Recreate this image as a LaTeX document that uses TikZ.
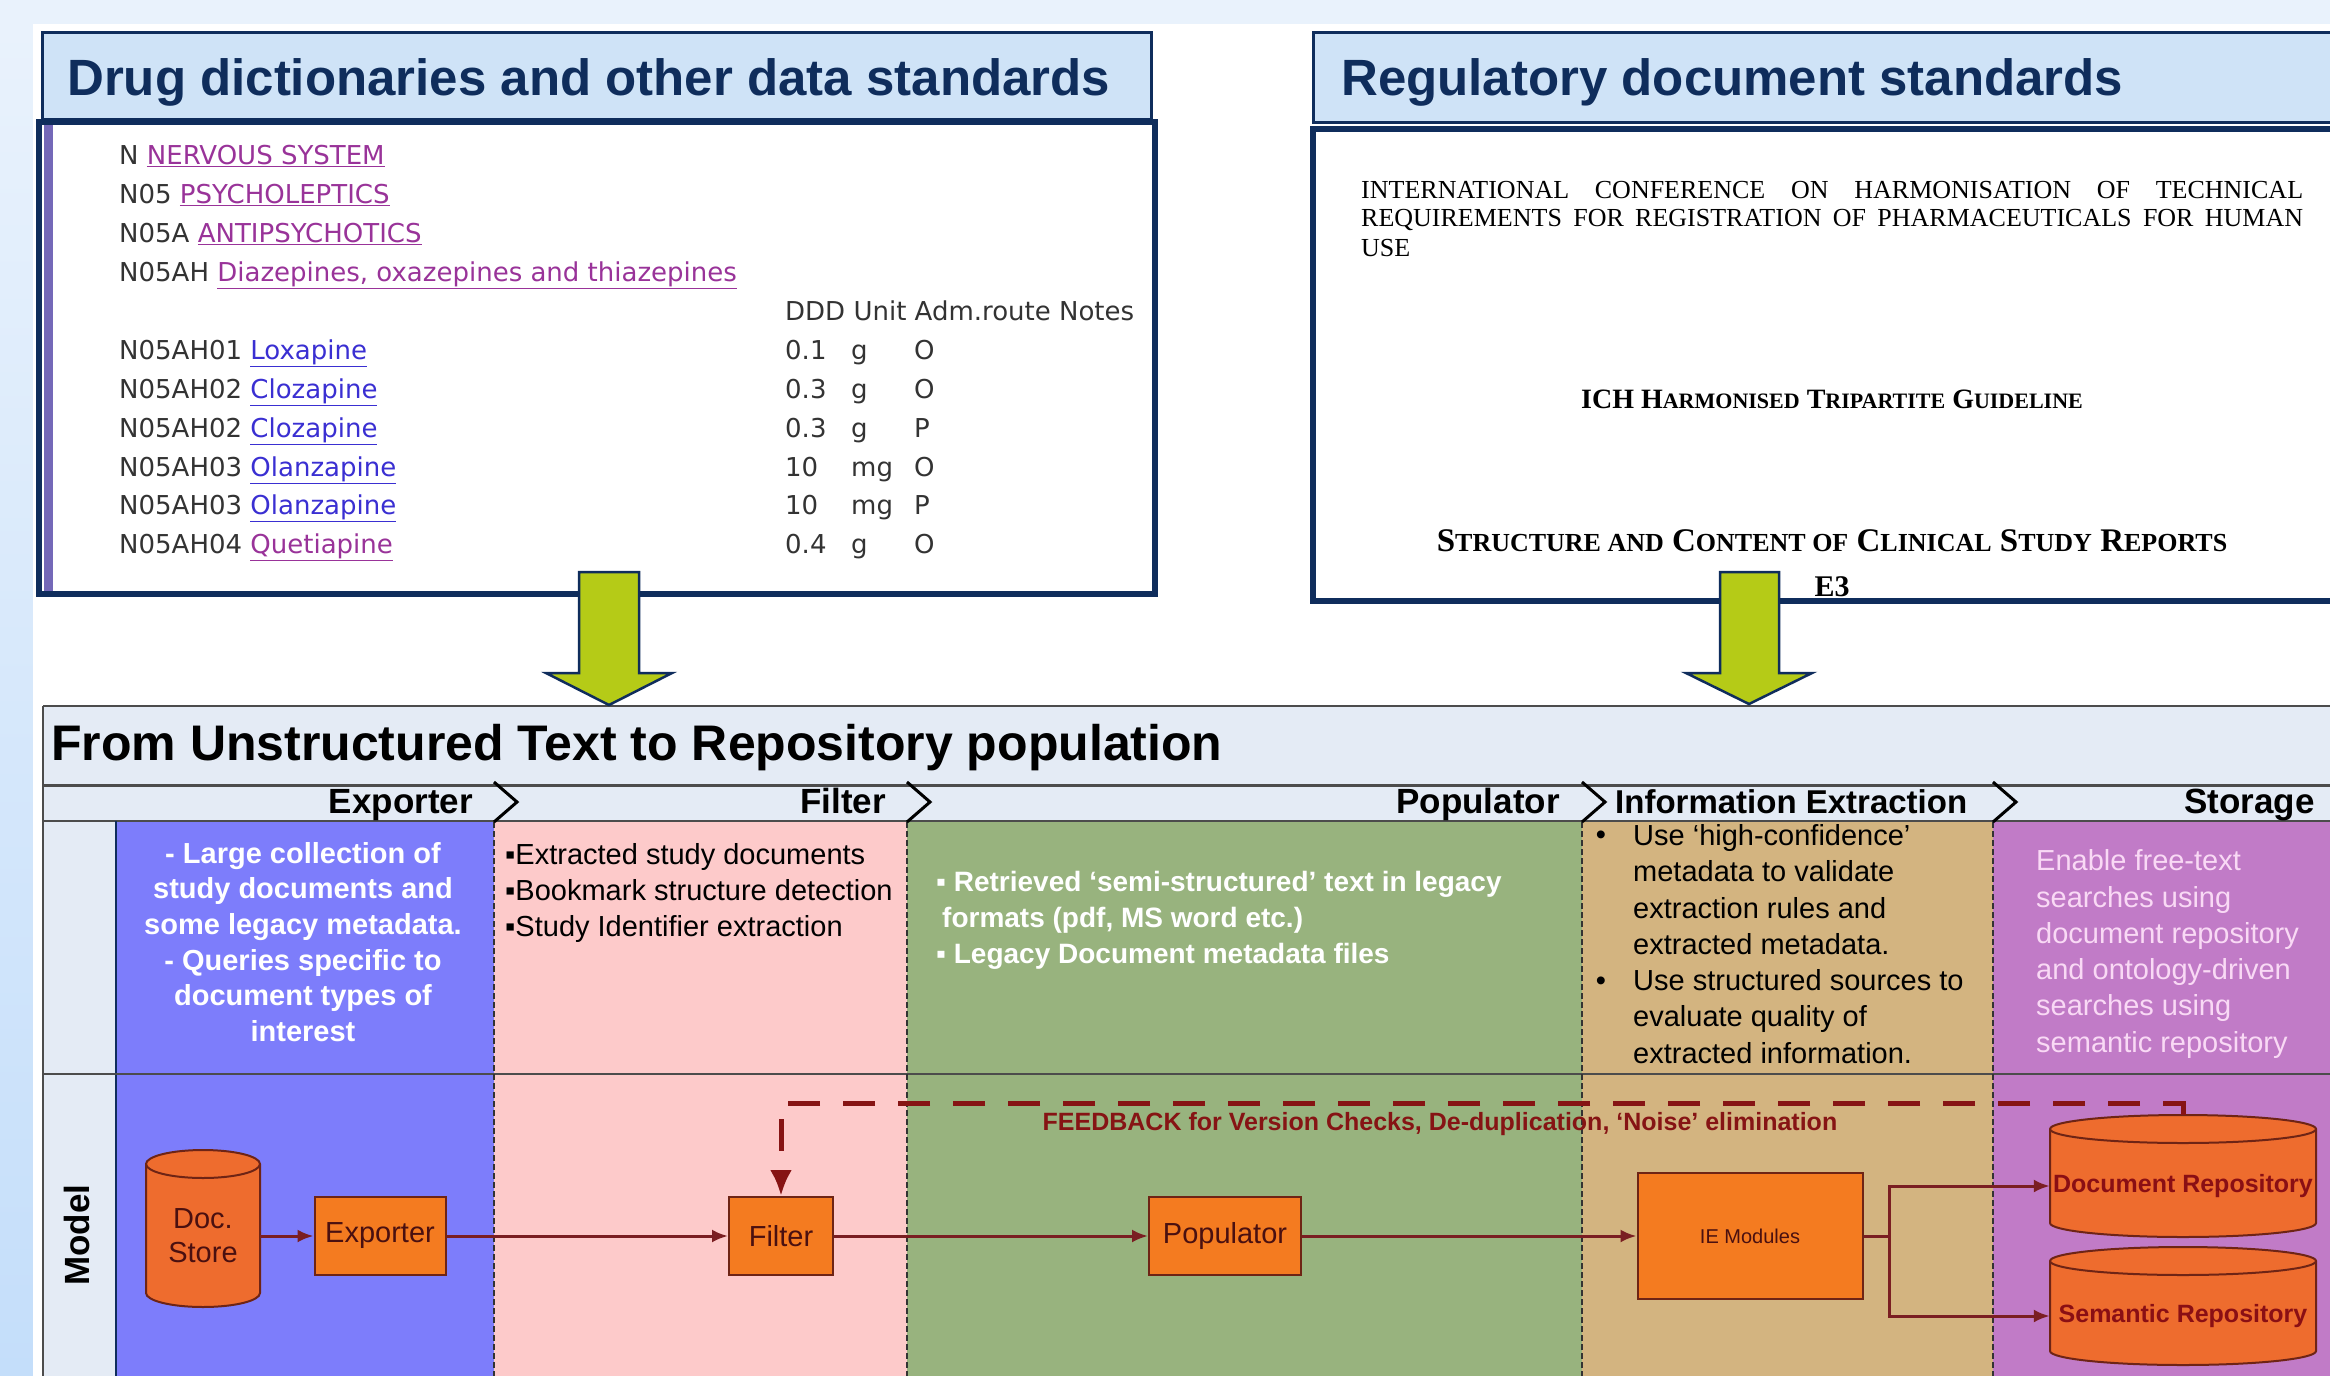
\documentclass[tikz,border=0pt]{standalone}
\usepackage{fontspec}
\setmainfont{Liberation Sans}
\newfontfamily\verd{DejaVu Sans}
\newfontfamily\tms{Liberation Serif}
\usetikzlibrary{arrows.meta,positioning,calc}

\definecolor{bgtop}{HTML}{E9F2FC}
\definecolor{bgleft}{HTML}{C4DEFA}
\definecolor{navy}{HTML}{0F2D5C}
\definecolor{hdrblue}{HTML}{CFE3F7}
\definecolor{stripe}{HTML}{7468B8}
\definecolor{arrowgreen}{HTML}{B5CB17}
\definecolor{barbg}{HTML}{E4EBF5}
\definecolor{exblue}{HTML}{7D7DFB}
\definecolor{filpink}{HTML}{FDCACA}
\definecolor{popgreen}{HTML}{98B37E}
\definecolor{ietan}{HTML}{D3B480}
\definecolor{storpurple}{HTML}{C17BC7}
\definecolor{boxfill}{HTML}{F47B20}
\definecolor{drumfill}{HTML}{EE6C2E}
\definecolor{boxline}{HTML}{6E2415}
\definecolor{flowred}{HTML}{7A1E22}
\definecolor{fbred}{HTML}{861414}
\definecolor{boxtext}{HTML}{4A1010}
\definecolor{repotext}{HTML}{8A0F14}
\definecolor{linkpurple}{HTML}{993399}
\definecolor{linkblue}{HTML}{3A2FD2}
\definecolor{atcgray}{HTML}{333333}
\definecolor{pinktext}{HTML}{F9D9F5}

\newcommand\lnk[2]{\textcolor{#1}{\underline{#2}}}
\newcommand\fakesc[2]{{\fontsize{#1}{#1}\selectfont #2}}

\begin{document}
\begin{tikzpicture}[x=1pt,y=-1pt,
	hdr/.style={font=\fontsize{51}{60}\selectfont\bfseries, text=navy, anchor=base west, inner sep=0},
	atc/.style={font=\verd\fontsize{26}{30}\selectfont, text=atcgray, anchor=base west, inner sep=0},
	ich/.style={font=\tms\fontsize{26}{30}\selectfont, anchor=base west, inner sep=0},
	lane/.style={font=\fontsize{35}{40}\selectfont\bfseries, anchor=base east, inner sep=0},
	lanetext/.style={font=\fontsize{29}{36.3}\selectfont, align=left, inner sep=0},
	box/.style={draw=boxline, fill=boxfill, line width=2pt, font=\fontsize{29}{34}\selectfont, text=boxtext, inner sep=0},
	drum/.style={draw=boxline, fill=drumfill, line width=2pt},
	flow/.style={draw=flowred, line width=3pt, -{Latex[length=16pt,width=13pt]}},
	fb/.style={draw=fbred, line width=5pt, dash pattern=on 32pt off 23pt, -{Latex[length=26pt,width=22pt]}},
	lanesep/.style={draw=black!80, line width=2pt, dash pattern=on 6pt off 3pt},
	bigarrow/.style={fill=arrowgreen, draw=navy, line width=2.5pt, line join=miter}]
	\useasboundingbox (0,0) rectangle (2330,1376);
	\fill[bgtop] (0,0) rectangle (2330,1376);
	\shade[top color=bgtop, bottom color=bgleft] (0,24) rectangle (33,1376);
	\fill[white] (33,24) rectangle (2330,1376);

	% drug dictionary panel
	\filldraw[fill=white, draw=navy, line width=6pt] (39,122) rectangle (1155,594);
	\fill[stripe] (44,125) rectangle (53,591);
	\filldraw[fill=hdrblue, draw=navy, line width=3pt] (42,32) rectangle (1151,119);
	\node[hdr] (dicttitle) at (67,95) {Drug dictionaries and other data standards};
	\node[atc] (atc1) at (119,164) {N \lnk{linkpurple}{NERVOUS SYSTEM}};
	\node[atc] (atc2) at (119,203) {N05 \lnk{linkpurple}{PSYCHOLEPTICS}};
	\node[atc] (atc3) at (119,242) {N05A \lnk{linkpurple}{ANTIPSYCHOTICS}};
	\node[atc] (atc4) at (119,281) {N05AH \lnk{linkpurple}{Diazepines, oxazepines and thiazepines}};
	\node[atc] (ddd) at (785,320) {DDD Unit Adm.route Notes};
	\node[atc] (drug1) at (119,359) {N05AH01 \lnk{linkblue}{Loxapine}};
	\node[atc] (dose1) at (785,359) {\makebox[66pt][l]{0.1}\makebox[63pt][l]{g}O};
	\node[atc] (drug2) at (119,398) {N05AH02 \lnk{linkblue}{Clozapine}};
	\node[atc] (dose2) at (785,398) {\makebox[66pt][l]{0.3}\makebox[63pt][l]{g}O};
	\node[atc] (drug3) at (119,437) {N05AH02 \lnk{linkblue}{Clozapine}};
	\node[atc] (dose3) at (785,437) {\makebox[66pt][l]{0.3}\makebox[63pt][l]{g}P};
	\node[atc] (drug4) at (119,476) {N05AH03 \lnk{linkblue}{Olanzapine}};
	\node[atc] (dose4) at (785,476) {\makebox[66pt][l]{10}\makebox[63pt][l]{mg}O};
	\node[atc] (drug5) at (119,514) {N05AH03 \lnk{linkblue}{Olanzapine}};
	\node[atc] (dose5) at (785,514) {\makebox[66pt][l]{10}\makebox[63pt][l]{mg}P};
	\node[atc] (drug6) at (119,553) {N05AH04 \lnk{linkpurple}{Quetiapine}};
	\node[atc] (dose6) at (785,553) {\makebox[66pt][l]{0.4}\makebox[63pt][l]{g}O};

	% regulatory panel
	\filldraw[fill=white, draw=navy, line width=6pt] (1313,129) rectangle (2345,601);
	\filldraw[fill=hdrblue, draw=navy, line width=3pt] (1313,32) rectangle (2345,122);
	\node[hdr] (regtitle) at (1341,95) {Regulatory document standards};
	\node[ich] (ich1) at (1361,198) {\makebox[942pt][s]{INTERNATIONAL CONFERENCE ON HARMONISATION OF TECHNICAL}};
	\node[ich] (ich2) at (1361,226) {\makebox[942pt][s]{REQUIREMENTS FOR REGISTRATION OF PHARMACEUTICALS FOR HUMAN}};
	\node[ich] (ich3) at (1361,256) {USE};
	\node[ich, anchor=base, font=\tms\bfseries\fontsize{28}{30}\selectfont] (guide) at (1832,408) {ICH H\fakesc{22}{ARMONISED} T\fakesc{22}{RIPARTITE} G\fakesc{22}{UIDELINE}};
	\node[ich, anchor=base, font=\tms\bfseries\fontsize{33}{36}\selectfont] (csr) at (1832,551) {S\fakesc{26}{TRUCTURE AND} C\fakesc{26}{ONTENT OF} C\fakesc{26}{LINICAL} S\fakesc{26}{TUDY} R\fakesc{26}{EPORTS}};
	\node[ich, anchor=base, font=\tms\bfseries\fontsize{30}{36}\selectfont] (e3) at (1832,596) {E3};

	% swim lanes
	\fill[barbg] (43,706) rectangle (2330,821);
	\fill[barbg] (43,821) rectangle (116,1376);
	\fill[exblue] (116,821) rectangle (494,1376);
	\fill[filpink] (494,821) rectangle (907,1376);
	\fill[popgreen] (907,821) rectangle (1582,1376);
	\fill[ietan] (1582,821) rectangle (1993,1376);
	\fill[storpurple] (1993,821) rectangle (2330,1376);
	\draw[black!70, line width=2pt] (43,706) -- (2330,706);
	\draw[black!70, line width=3pt] (43,785) -- (2330,785);
	\draw[black!70, line width=2pt] (43,821) -- (2330,821);
	\draw[black!70, line width=2pt] (43,706) -- (43,1376);
	\draw[navy, line width=2pt] (116,821) -- (116,1376);
	\draw[black!70, line width=2.5pt] (43,1074) -- (2330,1074);
	\foreach \x in {494,907,1582,1993} {
		\draw[lanesep] (\x,822) -- (\x,1376);
		\draw[line width=3pt] (\x,782) -- (\x+23,802) -- (\x,822);
	}
	\node[anchor=base west, font=\fontsize{50}{56}\selectfont\bfseries, inner sep=0] (flowtitle) at (51,760) {From Unstructured Text to Repository population};
	\node[lane] (lexp) at (473,813) {Exporter};
	\node[lane] (lfil) at (886,813) {Filter};
	\node[lane] (lpop) at (1560,813) {Populator};
	\node[lane, anchor=base west, font=\fontsize{33}{40}\selectfont\bfseries] (lie) at (1615,813) {Information Extraction};
	\node[lane] (lsto) at (2315,813) {Storage};
	\node[rotate=90, font=\fontsize{35}{40}\selectfont\bfseries] (model) at (77,1235) {Model};

	\node[lanetext, align=center, text=white, font=\fontsize{29}{35.6}\selectfont\bfseries] (exnote) at (303,942) {- Large collection of\\study documents and\\some legacy metadata.\\- Queries specific to\\document types of\\interest};
	\node[lanetext, anchor=west] (filnote) at (505,893) {▪Extracted study documents\\▪Bookmark structure detection\\▪Study Identifier extraction};
	\node[lanetext, anchor=west, text=white, font=\fontsize{28}{36}\selectfont\bfseries] (popnote) at (936,920) {▪ Retrieved `semi-structured' text in legacy\\\hspace*{6pt}formats (pdf, MS word etc.)\\▪ Legacy Document metadata files};
	\node[lanetext, anchor=west] (ienote) at (1633,944) {Use `high-confidence'\\metadata to validate\\extraction rules and\\extracted metadata.\\Use structured sources to\\evaluate quality of\\extracted information.};
	\node[lanetext] (iebul1) at (1601,838) {•};
	\node[lanetext] (iebul2) at (1601,984) {•};
	\node[lanetext, anchor=west, text=pinktext] (stonote) at (2036,954) {Enable free-text\\searches using\\document repository\\and ontology-driven\\searches using\\semantic repository};

	% model row
	\filldraw[drum] (146,1164) arc[start angle=180, end angle=0, x radius=57pt, y radius=14pt] -- (260,1293) arc[start angle=0, end angle=-180, x radius=57pt, y radius=14pt] -- cycle;
	\draw[drum, fill=none] (146,1164) arc[start angle=180, end angle=360, x radius=57pt, y radius=14pt];
	\filldraw[drum] (2050,1129) arc[start angle=180, end angle=0, x radius=133pt, y radius=14pt] -- (2316,1223) arc[start angle=0, end angle=-180, x radius=133pt, y radius=14pt] -- cycle;
	\draw[drum, fill=none] (2050,1129) arc[start angle=180, end angle=360, x radius=133pt, y radius=14pt];
	\filldraw[drum] (2050,1261) arc[start angle=180, end angle=0, x radius=133pt, y radius=14pt] -- (2316,1351) arc[start angle=0, end angle=-180, x radius=133pt, y radius=14pt] -- cycle;
	\draw[drum, fill=none] (2050,1261) arc[start angle=180, end angle=360, x radius=133pt, y radius=14pt];

	\node[font=\fontsize{29}{34}\selectfont, text=boxtext, align=center, minimum width=114pt, inner sep=0] (docstore) at (203,1236) {Doc.\\Store};
	\node[box, minimum width=131pt, minimum height=78pt] (exporter) at (380,1236) {Exporter};
	\node[box, minimum width=104pt, minimum height=78pt] (filter) at (781,1236) {Filter};
	\node[box, minimum width=152pt, minimum height=78pt] (populator) at (1225,1236) {Populator};
	\node[box, minimum width=225pt, minimum height=126pt, font=\fontsize{20}{24}\selectfont] (iemod) at (1750,1236) {IE Modules};
	\node[font=\fontsize{25}{30}\selectfont\bfseries, text=repotext, minimum width=266pt, inner sep=0] (docrepo) at (2183,1186) {Document Repository};
	\node[font=\fontsize{25}{30}\selectfont\bfseries, text=repotext, minimum width=266pt, inner sep=0] (semrepo) at (2183,1316) {Semantic Repository};
	\coordinate (repotop) at (2183,1115);

	\draw[flow] (docstore.east) -- (exporter.west);
	\draw[flow] (exporter) -- (filter);
	\draw[flow] (filter) -- (populator);
	\draw[flow] (populator) -- (iemod);
	\draw[flow] (iemod.east) -- ++(26,0) |- (docrepo.west);
	\draw[flow] (iemod.east) -- ++(26,0) |- (semrepo.west);
	\draw[fb] (repotop) -- ++(0,-12) -| (filter.north);
	\node[anchor=base, font=\fontsize{25}{30}\selectfont\bfseries, text=fbred, inner sep=0] (fblabel) at (1440,1130) {FEEDBACK for Version Checks, De-duplication, `Noise' elimination};

	% arrows from the standards into the pipeline
	\filldraw[bigarrow] (579,572) -- (639,572) -- (639,673) -- (672,673) -- (609,705) -- (546,673) -- (579,673) -- cycle;
	\filldraw[bigarrow] (1720,572) -- (1779,572) -- (1779,673) -- (1812,673) -- (1749,704) -- (1686,673) -- (1720,673) -- cycle;
\end{tikzpicture}
\end{document}
